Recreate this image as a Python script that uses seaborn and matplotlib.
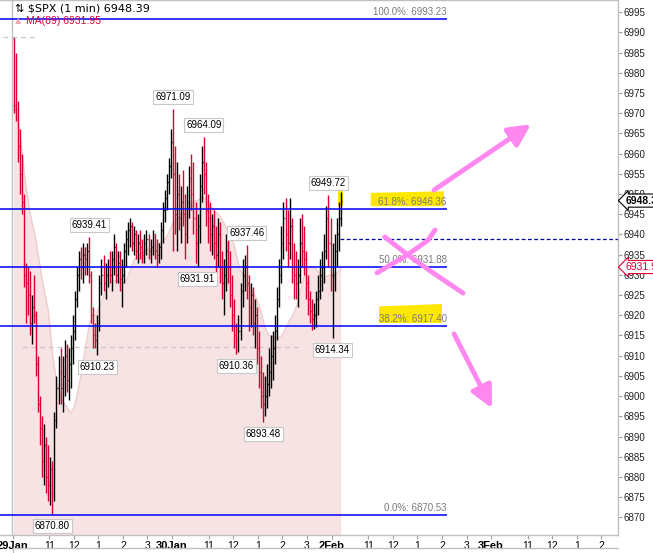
import matplotlib
matplotlib.use("Agg")
import matplotlib.pyplot as plt
import matplotlib.transforms as mtransforms
import numpy as np
import pandas as pd
import seaborn as sns
from matplotlib.lines import Line2D

# session layout: 9:30-16:00, 5-minute bars
DAYS = ["29Jan", "30Jan", "2Feb", "3Feb"]
HOURS = ["11", "12", "1", "2", "3"]
HOUR_MINUTES = [90, 150, 210, 270, 330]
SESSION_MINUTES = 390
BAR_MINUTES = 5

jan29_high = [6988.6, 6985, 6973, 6966, 6960, 6950, 6933, 6932, 6931, 6925,
              6930, 6921, 6910, 6900, 6895, 6893, 6890, 6888, 6885, 6884,
              6896, 6905, 6910, 6912, 6910, 6914, 6913, 6912, 6915, 6920,
              6926, 6932, 6936, 6937, 6938, 6937, 6938, 6939.41, 6931, 6922,
              6918, 6920, 6930, 6934, 6935, 6933, 6934, 6936, 6936, 6940,
              6938, 6936, 6936, 6934, 6938, 6941, 6943, 6944, 6943, 6942,
              6941, 6940, 6941, 6939, 6940, 6941, 6940, 6939, 6941, 6940,
              6939, 6938, 6943, 6948, 6951, 6955, 6959, 6966]
jan29_low = [6970, 6968, 6958, 6950, 6945, 6927, 6918, 6920, 6915, 6913,
             6918, 6905, 6896, 6888, 6880, 6878, 6876, 6874, 6873, 6870.80,
             6874, 6892, 6898, 6898, 6896, 6900, 6901, 6899, 6902, 6908,
             6914, 6922, 6926, 6929, 6928, 6930, 6930, 6928, 6918, 6912,
             6912, 6910.23, 6916, 6925, 6926, 6924, 6927, 6928, 6926, 6930,
             6928, 6928, 6926, 6922, 6928, 6932, 6935, 6937, 6936, 6935,
             6934, 6933, 6934, 6933, 6933, 6935, 6934, 6933, 6935, 6934,
             6932, 6933, 6934, 6938, 6943, 6946, 6950, 6954]
jan29_close = [6972, 6971, 6962, 6955, 6948, 6930, 6928, 6925, 6918, 6922,
               6920, 6908, 6898, 6892, 6884, 6888, 6880, 6878, 6882, 6876,
               6894, 6902, 6906, 6902, 6905, 6910, 6904, 6908, 6912, 6916,
               6924, 6930, 6934, 6932, 6935, 6934, 6936, 6930, 6920, 6915,
               6914, 6918, 6928, 6930, 6928, 6930, 6932, 6930, 6934, 6937,
               6930, 6933, 6929, 6930, 6936, 6939, 6941, 6942, 6938, 6940,
               6936, 6938, 6937, 6935, 6938, 6939, 6936, 6937, 6940, 6936,
               6935, 6937, 6941, 6946, 6949, 6953, 6957, 6963]

jan30_high = [6971.09, 6962, 6958, 6955, 6952, 6956, 6950, 6952, 6957, 6960,
              6958, 6948, 6945, 6955, 6962, 6964.09, 6958, 6950, 6948, 6945,
              6946, 6942, 6944, 6943, 6936, 6934, 6940, 6941, 6936, 6930,
              6924, 6918, 6920, 6928, 6934, 6935, 6937.46, 6930, 6928, 6927,
              6924, 6922, 6916, 6910, 6906, 6905, 6908, 6912, 6915, 6916,
              6920, 6927, 6934, 6942, 6948, 6949, 6946, 6949, 6944, 6938,
              6936, 6934, 6944, 6945, 6942, 6936, 6930, 6926, 6924, 6923,
              6926, 6930, 6934, 6936, 6940, 6947, 6949.72, 6944]
jan30_low = [6936, 6940, 6936, 6941, 6938, 6942, 6934, 6938, 6944, 6946,
             6940, 6933, 6931.91, 6938, 6948, 6950, 6942, 6938, 6936, 6935,
             6934, 6930, 6932, 6928, 6924, 6920, 6926, 6928, 6922, 6916,
             6912, 6910.36, 6911, 6914, 6922, 6926, 6924, 6916, 6917, 6915,
             6912, 6908, 6902, 6897, 6893.48, 6895, 6897, 6900, 6902, 6904,
             6908, 6914, 6922, 6928, 6934, 6936, 6932, 6934, 6928, 6924,
             6924, 6922, 6928, 6932, 6930, 6924, 6920, 6918, 6916.3, 6916.5,
             6917, 6920, 6924, 6926, 6928, 6934, 6932, 6926]
jan30_close = [6955, 6945, 6950, 6944, 6948, 6945, 6940, 6948, 6954, 6950,
               6944, 6938, 6942, 6952, 6958, 6955, 6946, 6944, 6940, 6942,
               6938, 6935, 6940, 6932, 6928, 6930, 6936, 6932, 6925, 6920,
               6915, 6914, 6916, 6926, 6930, 6932, 6928, 6922, 6925, 6918,
               6920, 6912, 6906, 6900, 6898, 6900, 6903, 6906, 6910, 6912,
               6916, 6924, 6930, 6938, 6944, 6940, 6938, 6942, 6932, 6930,
               6928, 6930, 6938, 6936, 6934, 6928, 6924, 6921, 6919, 6920,
               6924, 6926, 6930, 6932, 6936, 6944, 6938, 6930]

feb2_high = [6938, 6940, 6944, 6948, 6950.5]
feb2_low = [6914.34, 6926, 6932, 6936, 6942]
feb2_close = [6930, 6936, 6940, 6944, 6948.39]

MA_PERIOD_BARS = 18  # 89 one-minute bars
MA_LAST = 6931.95

FIB_HIGH = 6993.23
FIB_LOW = 6870.53
FIB_RATIOS = [1.0, 0.618, 0.5, 0.382, 0.0]

PEAK_LABELS = [6971.09, 6964.09, 6939.41, 6937.46, 6949.72]
TROUGH_LABELS = [6931.91, 6910.23, 6910.36, 6893.48, 6914.34, 6870.80]

BLACK = "#000000"
RED = "#dc0032"
PINK = "#ff88f0"
YELLOW = "#ffe800"
BLUE = "#0000ff"


def build_bars() -> pd.DataFrame:
    frames = []
    days = [(jan29_high, jan29_low, jan29_close),
            (jan30_high, jan30_low, jan30_close),
            (feb2_high, feb2_low, feb2_close)]
    for day, (high, low, close) in enumerate(days):
        n = len(close)
        frames.append(pd.DataFrame({
            "t": day * SESSION_MINUTES + BAR_MINUTES * np.arange(n) + BAR_MINUTES / 2,
            "high": high,
            "low": low,
            "close": close,
        }))
    df = pd.concat(frames, ignore_index=True)
    df["open"] = df["close"].shift(1).fillna(df["high"].iloc[0])
    df["ma"] = df["close"].rolling(MA_PERIOD_BARS, min_periods=1).mean()
    return df


sns.set_theme(style="white")
plt.rcParams["font.family"] = ["Liberation Sans", "DejaVu Sans"]

bars = build_bars()

fig = plt.figure(figsize=(6.53, 5.53), dpi=100)
ax = fig.add_axes([0, 18 / 553, 618 / 653, 535 / 553])
ax.set_xlim(-30.6, 1480.4)
ax.set_ylim(6865.62, 6998.04)

# moving average shading
ax.fill_between(bars["t"], 6850, bars["ma"], color="#f7e3e3", lw=0, zorder=1)
sns.lineplot(x=bars["t"], y=bars["ma"], ax=ax, color="#efcccc", lw=1, zorder=1)

# reference dashed levels
ax.hlines(6912.2, 23, 708, colors="#c8c8c8", linestyles=(0, (4, 3)), lw=0.9, zorder=2)
ax.hlines(6989.0, -23, 55, colors="#c8c8c8", linestyles=(0, (4, 3)), lw=0.9, zorder=2)
ax.hlines(6938.9, 801, 1480, colors="#0000a0", linestyles=(0, (3, 2)), lw=0.9, zorder=2)
ax.axvline(-1, color="#c0c0c0", lw=1, zorder=2)

# yellow highlights
ax.fill([876, 1055, 1055, 876], [6947.0, 6947.0, 6950.7, 6950.3], color=YELLOW, lw=0, zorder=3)
ax.fill([896, 1050, 1050, 896], [6918.1, 6918.1, 6922.8, 6922.2], color=YELLOW, lw=0, zorder=3)
ax.fill([795, 807, 807, 795], [6947.0, 6947.0, 6950.8, 6950.8], color=YELLOW, lw=0, zorder=3)

# OHLC bars
colors = np.where(bars["close"] >= bars["open"], BLACK, RED)
ax.vlines(bars["t"], bars["low"], bars["high"], colors=colors, lw=1.0, zorder=4)
ax.hlines(bars["open"], bars["t"] - 2.2, bars["t"], colors=colors, lw=0.9, zorder=4)
ax.hlines(bars["close"], bars["t"], bars["t"] + 2.2, colors=colors, lw=0.9, zorder=4)

# fibonacci levels
fib_end = 1062
for ratio in FIB_RATIOS:
    level = FIB_LOW + ratio * (FIB_HIGH - FIB_LOW)
    ax.hlines(level, -40, fib_end, colors=BLUE, lw=1.1, zorder=5)
    ax.annotate(f"{ratio * 100:.1f}%: {level:.2f}", (fib_end, level), xytext=(0, 1.5),
                textcoords="offset points", ha="right", va="bottom", fontsize=7,
                color="#7a7a7a", zorder=6)

# high / low labels
box = dict(boxstyle="square,pad=0.2", fc="white", ec="#c8c8c8", lw=0.8)
for value in PEAK_LABELS:
    row = bars.loc[np.isclose(bars["high"], value)].iloc[0]
    ax.annotate(f"{value:.2f}", (row["t"], value), xytext=(0, 5), textcoords="offset points",
                ha="center", va="bottom", fontsize=7, color="black", bbox=box, zorder=7)
for value in TROUGH_LABELS:
    row = bars.loc[np.isclose(bars["low"], value)].iloc[0]
    ax.annotate(f"{value:.2f}", (row["t"], value), xytext=(0, -5), textcoords="offset points",
                ha="center", va="top", fontsize=7, color="black", bbox=box, zorder=7)

# hand drawn pink marks
arrow = dict(arrowstyle="-|>,head_length=1.1,head_width=0.55", color=PINK, lw=3.5,
             shrinkA=0, shrinkB=0)
ax.annotate("", xy=(1267.7, 6967.3), xytext=(1030.6, 6951.0), arrowprops=arrow, zorder=8)
ax.annotate("", xy=(1172.4, 6897.0), xytext=(1079.5, 6915.4), arrowprops=arrow, zorder=8)
ax.plot([891.2, 964.5, 1016.0, 1033.0], [6930.5, 6934.9, 6938.6, 6941.1],
        color=PINK, lw=3.5, solid_capstyle="round", zorder=8)
ax.plot([910.0, 967.0, 1028.1, 1101.5], [6939.4, 6934.9, 6930.5, 6925.5],
        color=PINK, lw=3.5, solid_capstyle="round", zorder=8)

# axes styling
ax.spines["left"].set_visible(False)
for side in ["right", "bottom", "top"]:
    ax.spines[side].set_color("#c0c0c0")
    ax.spines[side].set_linewidth(1)

ax.yaxis.tick_right()
ax.set_yticks(np.arange(6870, 6996, 5))
ax.tick_params(axis="y", which="both", right=True, length=3, width=0.8, color="#a0a0a0",
               labelsize=7, labelcolor="#222222", pad=1)

tick_pos = []
tick_lab = []
for d, name in enumerate(DAYS):
    tick_pos.append(d * SESSION_MINUTES)
    tick_lab.append(name)
    for off, lab in zip(HOUR_MINUTES, HOURS):
        t = d * SESSION_MINUTES + off
        if t < 1480:
            tick_pos.append(t)
            tick_lab.append(lab)
ax.set_xticks(tick_pos)
ax.set_xticklabels(tick_lab)
ax.tick_params(axis="x", bottom=True, length=3, width=0.8, color="#a0a0a0", labelsize=7.5,
               labelcolor="black", pad=1)
for lab in ax.get_xticklabels():
    lab.set_family(["Liberation Sans Narrow", "Liberation Sans", "DejaVu Sans"])
    if lab.get_text() in DAYS:
        lab.set_fontweight("bold")
        lab.set_fontsize(8)
ax.set_xlabel("")
ax.set_ylabel("")

# right edge price boxes
trans = mtransforms.blended_transform_factory(ax.transAxes, ax.transData)
last_price = bars["close"].iloc[-1]
ax.text(1.012, last_price, f"{np.floor(last_price * 10) / 10:.1f}", transform=trans,
        ha="left", va="center", fontsize=7.5, fontweight="bold", color="black",
        bbox=dict(boxstyle="larrow,pad=0.15", fc="white", ec="black", lw=0.8),
        clip_on=False, zorder=9)
ax.text(1.012, MA_LAST, f"{np.floor(MA_LAST * 10) / 10:.1f}", transform=trans,
        ha="left", va="center", fontsize=7.5, color=RED,
        bbox=dict(boxstyle="larrow,pad=0.15", fc="white", ec=RED, lw=0.8),
        clip_on=False, zorder=9)

# title block
ax.text(0.024, 0.985, "\u21c5 $SPX (1 min) 6948.39", transform=ax.transAxes, ha="left",
        va="center", fontsize=8, family=["DejaVu Sans"], color="black", zorder=9)
ax.text(0.024, 0.961, "\u25b2", transform=ax.transAxes, ha="left", va="center",
        fontsize=6, family=["DejaVu Sans"], color="#f0a8b0", zorder=9)
ax.text(0.042, 0.961, f"MA(89) {MA_LAST:.2f}", transform=ax.transAxes, ha="left",
        va="center", fontsize=7.5, color=RED, zorder=9)

# lower panel edge
fig.add_artist(Line2D([13 / 653, 618 / 653], [5 / 553, 5 / 553], color="#c0c0c0", lw=1))
fig.add_artist(Line2D([13 / 653, 13 / 653], [0, 5 / 553], color="#c0c0c0", lw=1))

fig.savefig("out.png", dpi=100)
